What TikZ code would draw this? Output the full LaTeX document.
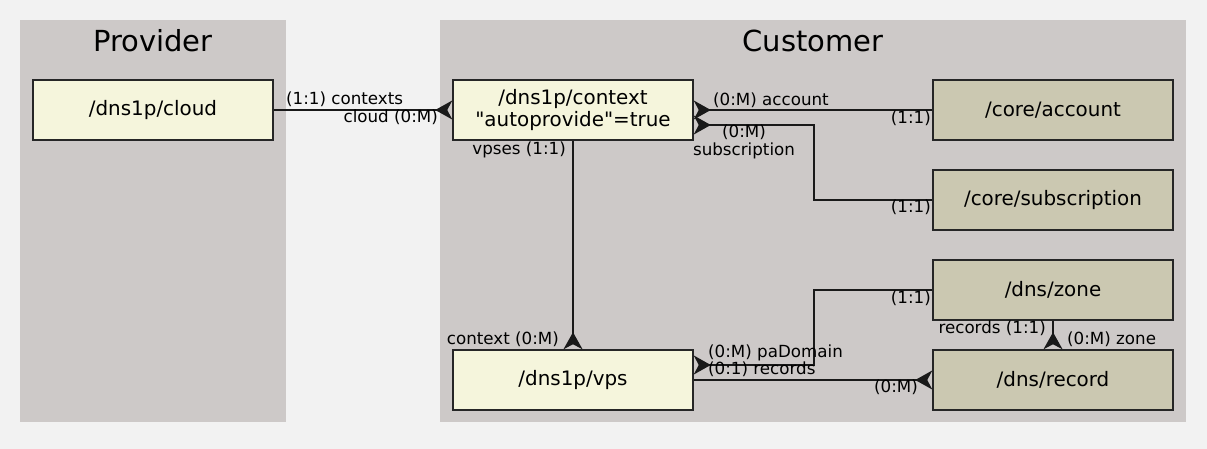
\documentclass[tikz,border=0pt]{standalone}
\usepackage{fontspec}
\setmainfont{DejaVu Sans}
\usepackage{tikz}
\usetikzlibrary{arrows.meta}
\definecolor{pagebg}{HTML}{F2F2F2}
\definecolor{clusterbg}{HTML}{CDC9C8}
\definecolor{dnsbeige}{HTML}{F5F5DC}
\definecolor{corebg}{HTML}{CBC8B1}

\begin{document}
\begin{tikzpicture}[x=1pt,y=-1pt,
    entity/.style={draw=black!85,line width=1.5pt,fill=dnsbeige,minimum width=240pt,minimum height=60pt,inner sep=0pt,align=center,font=\fontsize{19.9}{22}\selectfont},
    coreent/.style={entity,fill=corebg},
    lbl/.style={inner sep=0pt,align=center,font=\fontsize{16.7}{18}\selectfont},
    clustertitle/.style={inner sep=0pt,font=\fontsize{29}{32}\selectfont},
    rel/.style={line width=1.5pt,draw=black!90},
    crow/.tip={Stealth[reversed,length=17pt,width=19pt,inset=5pt]}]
    \fill[pagebg] (0,0) rectangle (1207,449);
    \useasboundingbox (0,0) rectangle (1207,449);

    % clusters
    \fill[clusterbg] (20,20) rectangle (286,422);
    \fill[clusterbg] (440,20) rectangle (1186,422);
    \node[clustertitle] (providertitle) at (153,41) {Provider};
    \node[clustertitle] (customertitle) at (813,41) {Customer};

    % entities
    \node[entity] (cloud) at (153,110) {/dns1p/cloud};
    \node[entity] (context) at (573,110) {/dns1p/context\\\textquotedbl autoprovide\textquotedbl=true};
    \node[entity] (vps) at (573,380) {/dns1p/vps};
    \node[coreent] (account) at (1053,110) {/core/account};
    \node[coreent] (subscription) at (1053,200) {/core/subscription};
    \node[coreent] (zone) at (1053,290) {/dns/zone};
    \node[coreent] (record) at (1053,380) {/dns/record};

    % relations
    \draw[rel,-crow] (cloud) -- (context);
    \draw[rel,crow-] (context.east) -- (account.west);
    \draw[rel,crow-] ([yshift=-15pt]context.east) -- ++(120,0) |- (subscription.west);
    \draw[rel,-crow] (context) -- (vps);
    \draw[rel,crow-] ([yshift=15pt]vps.east) -- ++(120,0) |- (zone.west);
    \draw[rel,-crow] (vps.east) -- (record.west);
    \draw[rel,-crow] (zone) -- (record);

    % labels
    \node[lbl,anchor=west] (l1) at (286,99) {(1:1) contexts};
    \node[lbl,anchor=east] (l2) at (438,117) {cloud (0:M)};
    \node[lbl,anchor=west] (l3) at (713,100) {(0:M) account};
    \node[lbl,anchor=east] (l4) at (931,118) {(1:1)};
    \node[lbl] (l5) at (744,142) {(0:M)\\subscription};
    \node[lbl,anchor=east] (l6) at (931,207) {(1:1)};
    \node[lbl,anchor=east] (l7) at (566,150) {vpses (1:1)};
    \node[lbl,anchor=east] (l8) at (559,339) {context (0:M)};
    \node[lbl,anchor=west] (l9) at (708,353) {(0:M) paDomain};
    \node[lbl,anchor=west] (l10) at (708,369) {(0:1) records};
    \node[lbl,anchor=east] (l11) at (931,298) {(1:1)};
    \node[lbl,anchor=east] (l12) at (918,387) {(0:M)};
    \node[lbl,anchor=east] (l13) at (1046,328) {records (1:1)};
    \node[lbl,anchor=west] (l14) at (1067,339) {(0:M) zone};
  \end{tikzpicture}
\end{document}
